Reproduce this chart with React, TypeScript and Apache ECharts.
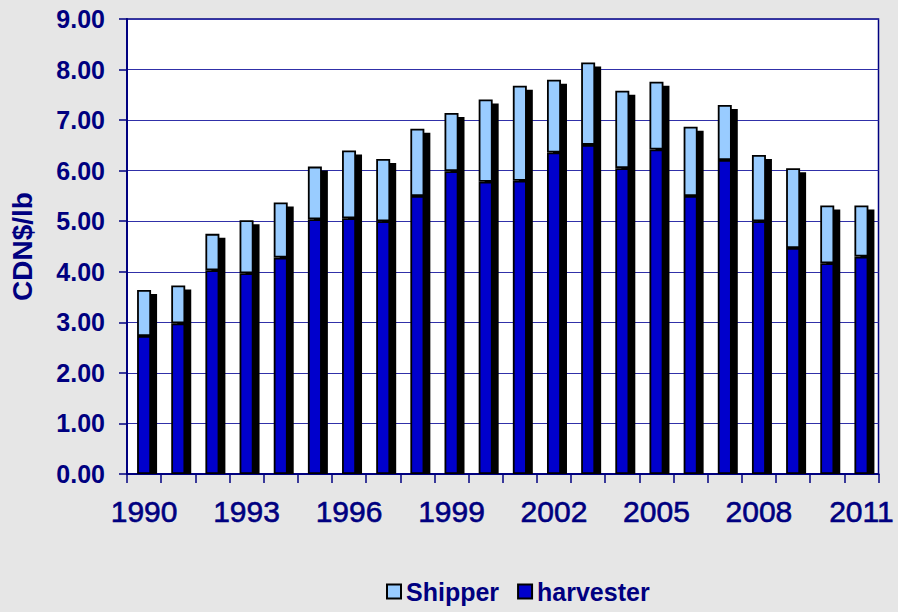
import React, { useEffect, useRef } from "react";
import * as echarts from "echarts";

const years = [
  "1990", "1991", "1992", "1993", "1994", "1995", "1996", "1997", "1998", "1999", "2000",
  "2001", "2002", "2003", "2004", "2005", "2006", "2007", "2008", "2009", "2010", "2011",
];
const harvester = [
  2.73, 2.98, 4.03, 3.97, 4.28, 5.04, 5.06, 5.0, 5.5, 5.99, 5.78,
  5.8, 6.36, 6.51, 6.05, 6.42, 5.5, 6.21, 5.0, 4.47, 4.17, 4.3,
];
const shipper = [
  0.91, 0.75, 0.72, 1.05, 1.09, 1.04, 1.34, 1.23, 1.33, 1.15, 1.63,
  1.88, 1.44, 1.63, 1.53, 1.34, 1.37, 1.09, 1.31, 1.58, 1.14, 1.01,
];
const yTicks = [0, 1, 2, 3, 4, 5, 6, 7, 8, 9];

const NAVY = "#000080";
const FONT = "'Liberation Sans', Arial, sans-serif";

export default function App() {
  const ref = useRef<HTMLDivElement>(null);
  useEffect(() => {
    if (!ref.current) return;
    const chart = echarts.init(ref.current, undefined, { renderer: "svg" });
    const totals = harvester.map((h, i) => [i, +(h + shipper[i]).toFixed(2)]);
    const BW = 14;
    chart.setOption({
      animation: false,
      backgroundColor: "#e6e6e6",
      textStyle: { fontFamily: FONT },
      grid: {
        left: 127,
        right: 19.5,
        top: 19,
        bottom: 138,
        containLabel: false,
        outerBoundsMode: "none",
        show: true,
        backgroundColor: "#ffffff",
        borderColor: NAVY,
        borderWidth: 1.5,
      },
      legend: {
        data: ["Shipper", "harvester"],
        top: 574,
        left: 381,
        itemWidth: 14,
        itemHeight: 14,
        itemGap: 18,
        icon: "rect",
        itemStyle: { borderColor: "#000000", borderWidth: 2 },
        textStyle: { color: NAVY, fontWeight: "bold", fontSize: 25, fontFamily: FONT },
        selectedMode: false,
      },
      xAxis: {
        type: "category",
        data: years,
        boundaryGap: true,
        axisLine: { lineStyle: { color: NAVY, width: 2 } },
        axisTick: { show: true, interval: 0, length: 9, lineStyle: { color: NAVY, width: 1.5 } },
        axisLabel: {
          interval: 2,
          color: NAVY,
          fontSize: 30,
          fontFamily: FONT,
          margin: 22,
          textBorderColor: NAVY,
          textBorderWidth: 0.6,
        },
      },
      yAxis: {
        type: "value",
        min: yTicks[0],
        max: yTicks[yTicks.length - 1],
        interval: 1,
        name: "CDN$/lb",
        nameLocation: "middle",
        nameRotate: 90,
        nameGap: 91,
        nameTextStyle: { color: NAVY, fontWeight: "bold", fontSize: 28, fontFamily: FONT },
        axisLine: { show: true, lineStyle: { color: NAVY, width: 2 } },
        axisTick: { show: true, length: 8, lineStyle: { color: NAVY, width: 1.5 } },
        axisLabel: {
          color: NAVY,
          fontWeight: "bold",
          fontSize: 25,
          fontFamily: FONT,
          margin: 22,
          formatter: (v: number) => v.toFixed(2),
        },
        splitLine: { show: true, lineStyle: { color: "#3030a8", width: 1 } },
      },
      series: [
        {
          type: "custom",
          name: "shadow",
          z: 1,
          silent: true,
          data: totals,
          renderItem: (params: any, api: any) => {
            const idx = api.value(0);
            const top = api.coord([idx, api.value(1)]);
            const base = api.coord([idx, 0]);
            return {
              type: "rect",
              shape: { x: top[0] - BW / 2 + 6, y: top[1] + 4, width: BW, height: base[1] - top[1] - 4 },
              style: { fill: "#000000" },
            };
          },
        },
        {
          type: "bar",
          name: "harvester",
          stack: "total",
          z: 2,
          barWidth: BW,
          data: harvester,
          itemStyle: { color: "#0000cc", borderColor: "#000000", borderWidth: 1.8 },
        },
        {
          type: "bar",
          name: "Shipper",
          stack: "total",
          z: 2,
          barWidth: BW,
          data: shipper,
          itemStyle: { color: "#99ccff", borderColor: "#000000", borderWidth: 1.8 },
        },
      ],
    });
    return () => chart.dispose();
  }, []);
  return (
    <div
      ref={ref}
      style={{ position: "fixed", left: 0, top: 0, width: 898, height: 612 }}
    />
  );
}
